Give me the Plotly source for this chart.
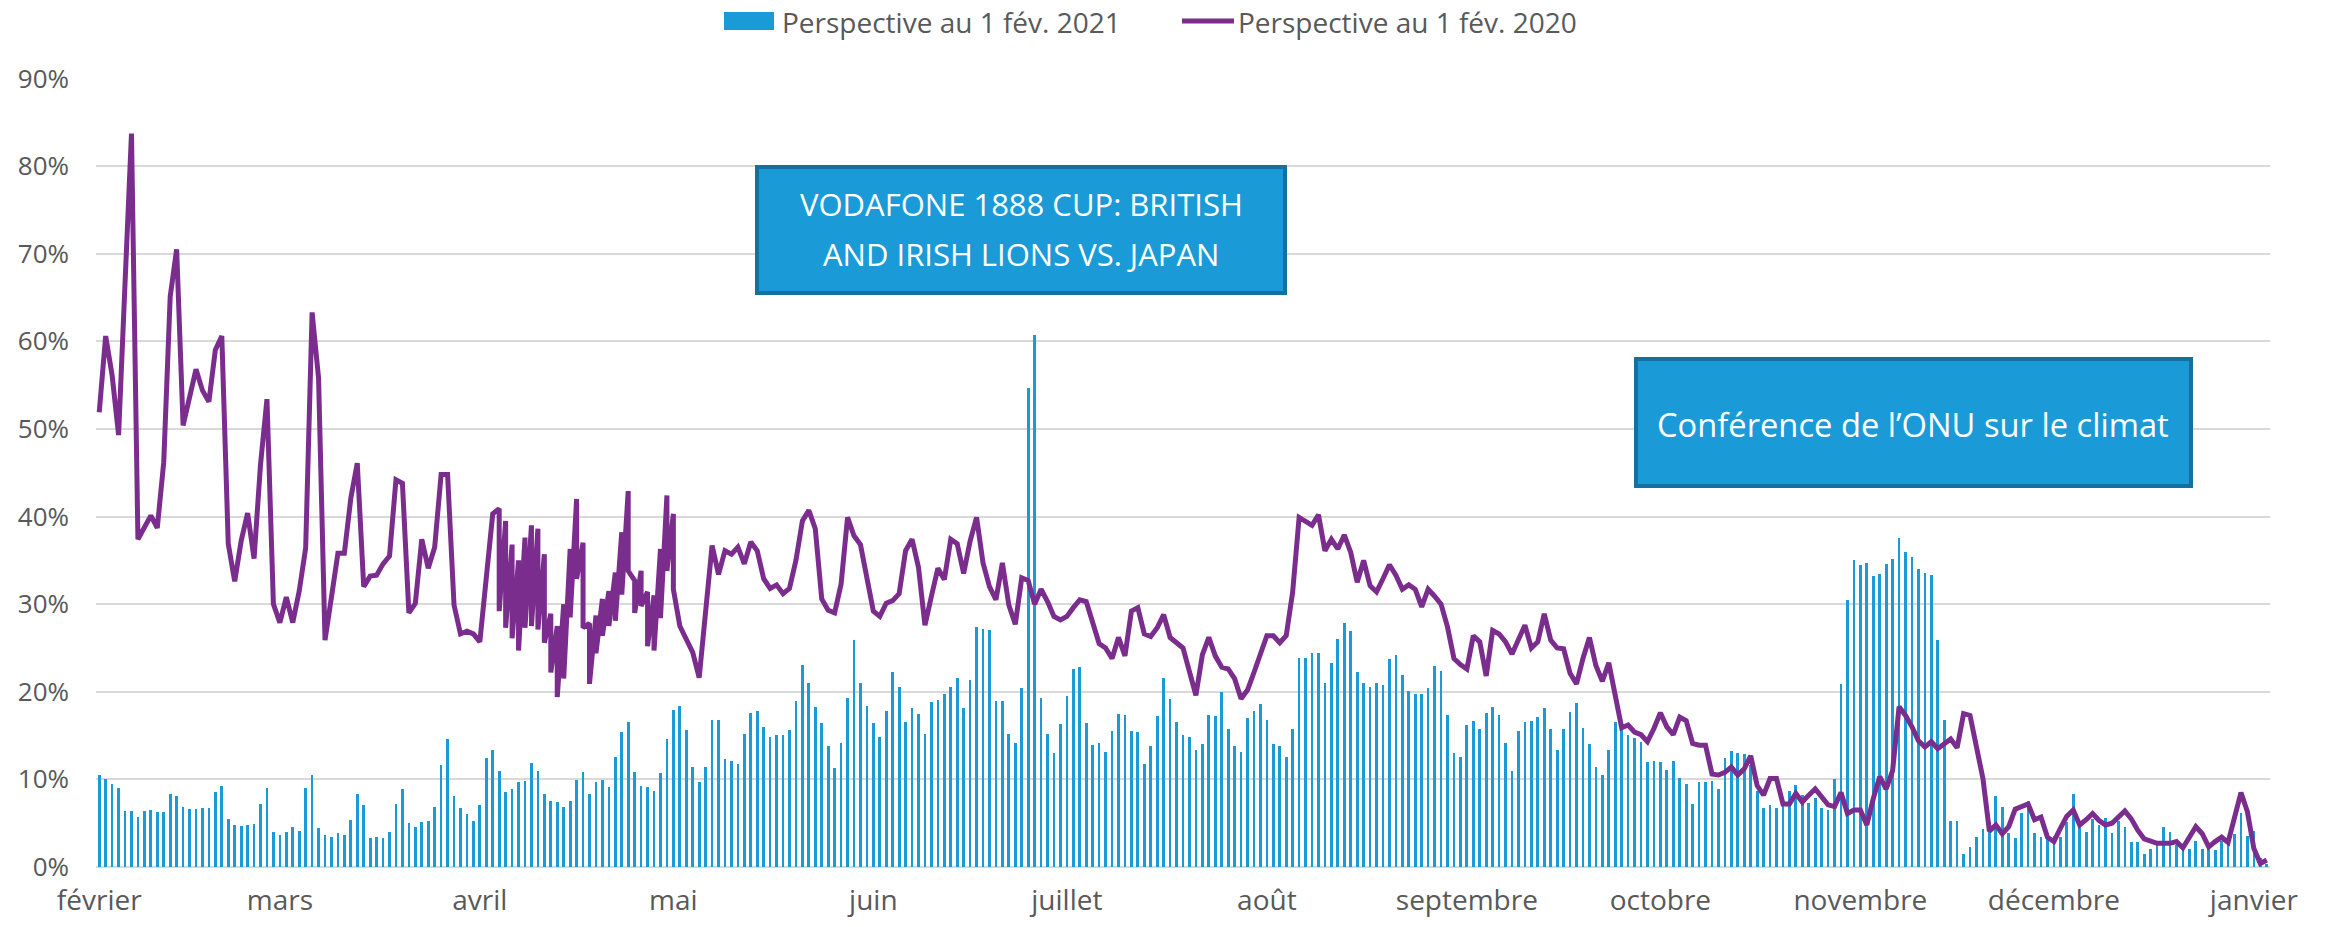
import plotly.graph_objects as go
import pandas as pd

# ---------------- data ----------------
start_date = "2021-02-01"

# Perspective au 1 fév. 2021 (daily, %)
bars_2021 = [
    10.5, 10.0, 9.5, 9.0, 6.4, 6.4, 5.7, 6.4, 6.5, 6.3, 6.3, 8.3, 8.1, 6.9, 6.6, 6.6, 6.7, 6.7, 8.6, 9.3,
    5.5, 4.8, 4.7, 4.8, 4.9, 7.2, 9.0, 4.0, 3.7, 4.0, 4.6, 4.1, 9.0,
    10.5, 4.4, 3.6, 3.4, 3.9, 3.7, 5.4, 8.3, 7.1, 3.3, 3.4, 3.3, 4.0, 7.2, 8.9, 5.0, 4.6, 5.1, 5.3, 6.8,
    11.6, 14.6, 8.1, 6.7, 6.0, 5.3, 7.1, 12.4, 13.3, 11.0, 8.6, 8.9, 9.7, 9.8,
    11.9, 11.0, 8.3, 7.5, 7.4, 6.9, 7.5, 9.9, 10.8, 8.3, 9.7, 9.9, 9.1, 12.5, 15.4, 16.5, 10.9, 9.2, 9.1,
    8.7, 10.7, 14.6, 17.9, 18.4, 15.6, 11.4, 9.7, 11.4, 16.8, 16.8, 12.3, 12.1, 11.7, 15.2,
    17.6, 17.8, 16.0, 14.8, 15.1, 15.1, 15.6, 18.9, 23.1, 21.0, 18.3, 16.4, 13.8, 11.3, 14.2, 19.3, 25.9,
    21.0, 18.4, 16.4, 14.8, 17.8, 22.2, 20.6, 16.5, 18.1, 17.5, 15.2, 18.8, 19.1, 19.8, 20.6, 21.6, 18.2, 21.4,
    27.4, 27.2, 27.0, 18.9, 18.9, 15.2, 14.1, 20.4, 54.7, 60.7, 19.3, 15.2, 13.0, 16.3, 19.5, 22.6, 22.8,
    16.4, 13.9, 14.2, 13.1, 15.5, 17.5, 17.4, 15.5, 15.4, 11.8, 13.8, 17.2, 21.6, 19.2, 16.5, 15.1, 14.8,
    13.4, 14.0, 17.3, 17.2, 20.0, 15.7, 13.8, 13.1, 17.0, 17.8, 18.6, 16.8, 14.0, 13.8, 12.5, 15.7, 23.8,
    23.9, 24.4, 24.4, 21.0, 23.3, 26.0, 27.8, 26.9, 22.2, 21.0, 20.6, 21.0, 20.8, 23.7, 24.2, 21.9, 20.1,
    19.8, 19.8, 20.4, 22.9, 22.4, 17.4, 13.0, 12.5, 16.2, 16.7, 15.8, 17.6, 18.3, 17.4, 14.1, 11.0, 15.5,
    16.5, 16.7, 17.1, 18.1, 15.8, 13.3, 15.8, 17.7, 18.7, 15.9, 14.0, 11.4, 10.5, 13.4, 16.5, 15.7, 15.1,
    14.7, 14.3, 12.0, 12.1, 12.0, 11.1, 12.1, 10.2, 9.5, 7.2, 9.7, 9.7, 9.8, 8.9, 12.4, 13.2, 13.0, 12.9,
    11.6, 8.7, 6.7, 7.1, 6.7, 7.0, 8.7, 9.4, 8.2, 7.3, 7.9, 6.7, 6.5, 10.0, 20.9, 30.5,
    35.0, 34.5, 34.7, 33.2, 33.4, 34.6, 35.2, 37.5, 36.0, 35.4, 34.0, 33.5, 33.3, 25.9, 16.8, 5.3, 5.3,
    1.5, 2.3, 3.4, 4.3, 5.1, 8.1, 6.9, 3.9, 3.3, 6.2, 7.5, 3.9, 3.4, 3.9, 3.5, 3.4, 5.1,
    8.3, 4.8, 4.0, 5.5, 4.8, 5.6, 3.9, 5.2, 4.6, 2.8, 2.9, 1.5, 2.1, 2.9, 4.6, 4.0, 2.5, 2.1, 2.1, 3.0,
    2.1, 2.1, 1.9, 3.0, 2.9, 3.8, 6.2, 3.5, 4.1, 1.0, 0.4,
]

# Perspective au 1 fév. 2020 (daily, %; some days carry two readings)
line_2020 = [
    51.9, 60.6, 56.1, 49.3, 66.6, 83.7, 37.4, 38.7, 40.1, 38.7, 46.2, 65.1, 70.5, 50.4, 53.8, 56.8, 54.4,
    53.1, 59.0, 60.6, 36.9, 32.6, 37.2, 40.4, 35.2, 45.9, 53.4, 30.0, 27.9, 30.8, 27.9, 31.5, 36.4,
    63.3, 55.8, 25.9, 30.8, 35.8, 35.8, 42.1, 46.1, 32.0, 33.2, 33.3, 34.6, 35.5, 44.2, 43.8, 29.0, 30.1,
    37.4, 34.1, 36.5, 44.8, 44.8, 29.9, 26.6, 26.9, 26.6, 25.7, 33.0, 40.3,
    (40.9, 29.2), (39.5, 27.3), (36.8, 26.1), (35.0, 24.7), (37.6, 27.3), (39.0, 27.5), (38.6, 27.1),
    (35.7, 25.6), (28.9, 22.2), (27.5, 19.4), (30.0, 21.5), (36.3, 28.5), (42.0, 32.9), (37.0, 27.3),
    (27.8, 20.9), (28.7, 24.4), (30.6, 26.4), (31.5, 27.5), (33.6, 28.1), (38.2, 31.1), (42.9, 33.8),
    (32.7, 29.0), (33.8, 29.8), (31.4, 25.2), (31.0, 24.7), (36.3, 28.4), (42.4, 33.8), (40.3, 31.7),
    27.5, 26.0, 24.5, 21.6, 29.0, 36.7, 33.4, 36.1, 35.7, 36.5, 34.6,
    37.1, 36.1, 32.9, 31.8, 32.2, 31.2, 31.8, 35.0, 39.5, 40.7, 38.6, 30.6, 29.3, 29.0, 32.3, 39.9, 37.8,
    36.8, 33.1, 29.2, 28.6, 30.1, 30.4, 31.2, 36.1, 37.4, 34.2, 27.6, 30.9, 34.1, 32.8, 37.4, 36.9, 33.5, 37.2,
    39.9, 34.7, 32.0, 30.5, 34.7, 29.9, 27.7, 33.0, 32.7, 30.0, 31.7, 30.3, 28.6, 28.2, 28.6, 29.6, 30.5,
    30.3, 27.7, 25.5, 25.0, 23.8, 26.2, 24.1, 29.2, 29.6, 26.6, 26.3, 27.3, 28.8, 26.2, 25.6, 25.0, 22.3,
    19.6, 24.2, 26.2, 24.1, 22.8, 22.6, 21.5, 19.2, 20.2, 22.2, 24.5, 26.4, 26.4, 25.6, 26.4, 31.4, 39.9,
    39.5, 39.0, 40.2, 36.1, 37.4, 36.3, 37.9, 35.9, 32.5, 35.0, 32.1, 31.4, 32.9, 34.5, 33.3, 31.7, 32.2,
    31.7, 29.7, 31.7, 30.9, 30.0, 27.4, 23.8, 23.1, 22.6, 26.4, 25.7, 21.8, 27.0, 26.6, 25.7, 24.3, 25.9,
    27.6, 25.0, 25.7, 28.9, 25.9, 25.0, 24.9, 22.1, 20.9, 23.8, 26.2, 23.0, 21.2, 23.3, 19.2, 15.9, 16.2,
    15.4, 15.1, 14.3, 15.8, 17.6, 16.0, 15.1, 17.1, 16.7, 14.1, 13.9, 13.9, 10.6, 10.5, 10.8, 11.4, 10.5,
    11.2, 12.7, 9.3, 8.2, 10.1, 10.1, 7.2, 7.2, 8.4, 7.4, 8.2, 8.9, 8.0, 7.1, 6.9, 8.5, 6.1,
    6.5, 6.5, 4.8, 7.8, 10.3, 8.9, 11.0, 18.3, 17.3, 16.0, 14.4, 13.7, 14.3, 13.5, 14.1, 14.6, 13.6,
    17.5, 17.3, 13.5, 10.1, 4.1, 4.8, 3.8, 4.6, 6.6, 6.9, 7.2, 5.4, 5.7, 3.4, 2.9, 4.4, 5.8,
    6.5, 4.8, 5.4, 6.1, 5.3, 4.8, 5.0, 5.7, 6.4, 5.5, 4.2, 3.2, 2.9, 2.7, 2.7, 2.7, 2.9, 2.2, 3.4, 4.6,
    3.8, 2.3, 2.9, 3.4, 2.8, 5.9, 8.5, 6.3, 2.1, 0.4, 0.8,
]

month_ticks = ["2021-02-01", "2021-03-01", "2021-04-01", "2021-05-01", "2021-06-01", "2021-07-01",
               "2021-08-01", "2021-09-01", "2021-10-01", "2021-11-01", "2021-12-01", "2022-01-01"]
month_labels = ["février", "mars", "avril", "mai", "juin", "juillet", "août", "septembre",
                "octobre", "novembre", "décembre", "janvier"]

series_names = ["Perspective au 1 fév. 2021", "Perspective au 1 fév. 2020"]
callout_1 = ["VODAFONE 1888 CUP: BRITISH", "AND IRISH LIONS VS. JAPAN"]
callout_2 = "Conférence de l’ONU sur le climat"

# ---------------- build ----------------
dates = pd.date_range(start_date, periods=len(bars_2021), freq="D")
line_x, line_y = [], []
for d, v in zip(dates, line_2020):
    vals = v if isinstance(v, tuple) else (v,)
    for val in vals:
        line_x.append(d)
        line_y.append(val / 100)

BLUE = "#1A9BD7"
PURPLE = "#7B2D8E"
GREY = "#595959"
BORDER = "#156F9F"
FONT = "Open Sans"

fig = go.Figure()
fig.add_trace(go.Bar(
    x=dates, y=[b / 100 for b in bars_2021], name=series_names[0], showlegend=False,
    marker=dict(color=BLUE, line=dict(width=0)), width=0.42 * 86400000,
))
fig.add_trace(go.Scatter(
    x=line_x, y=line_y, name=series_names[1], mode="lines", showlegend=False,
    line=dict(color=PURPLE, width=5),
))

W, H = 2325, 927
PAGE_OFFSET = 0                       # body margin removed by post_script below
PL, PT, PR, PB = 96, 78, 2270, 867    # plot area in screen pixels
pw, ph = PR - PL, PB - PT
L, T = PL - PAGE_OFFSET, PT - PAGE_OFFSET
R, B = W - L - pw, H - T - ph


def px(x):
    return (x - PL) / pw


def py(y):
    return (PB - y) / ph


shapes = [
    # legend keys
    dict(type="rect", xref="paper", yref="paper", x0=px(724), x1=px(774), y0=py(30), y1=py(12),
         fillcolor=BLUE, line=dict(width=0)),
    dict(type="line", xref="paper", yref="paper", x0=px(1182), x1=px(1234), y0=py(21), y1=py(21),
         line=dict(color=PURPLE, width=5)),
    # callout boxes
    dict(type="rect", xref="paper", yref="paper", x0=px(757), x1=px(1285), y0=py(293), y1=py(167),
         fillcolor=BLUE, line=dict(color=BORDER, width=4), layer="above"),
    dict(type="rect", xref="paper", yref="paper", x0=px(1636), x1=px(2191), y0=py(486), y1=py(359),
         fillcolor=BLUE, line=dict(color=BORDER, width=4), layer="above"),
]

annotations = [
    dict(xref="paper", yref="paper", x=px(780), y=py(22), text=series_names[0], showarrow=False,
         font=dict(size=28, color=GREY, family=FONT), xanchor="left", yanchor="middle"),
    dict(xref="paper", yref="paper", x=px(1236), y=py(22), text=series_names[1], showarrow=False,
         font=dict(size=28, color=GREY, family=FONT), xanchor="left", yanchor="middle"),
    dict(xref="paper", yref="paper", x=px(1021), y=py(204), text=callout_1[0], showarrow=False,
         font=dict(size=31, color="white", family=FONT), xanchor="center", yanchor="middle"),
    dict(xref="paper", yref="paper", x=px(1021), y=py(254), text=callout_1[1], showarrow=False,
         font=dict(size=31, color="white", family=FONT), xanchor="center", yanchor="middle"),
    dict(xref="paper", yref="paper", x=px(1913), y=py(424), text=callout_2, showarrow=False,
         font=dict(size=32.7, color="white", family=FONT), xanchor="center", yanchor="middle"),
]

fig.update_layout(
    width=W, height=H,
    margin=dict(l=L, r=R, t=T, b=B, autoexpand=False),
    plot_bgcolor="white", paper_bgcolor="white",
    font=dict(family=FONT, color=GREY, size=26),
    bargap=0,
    showlegend=False,
    xaxis=dict(
        type="date", range=["2021-01-31 12:00", "2022-01-03 12:00"],
        tickvals=month_ticks, ticktext=month_labels, showgrid=False, zeroline=False,
        showline=False, ticks="", tickfont=dict(size=28, color=GREY), ticklabelstandoff=14,
        automargin=False,
    ),
    yaxis=dict(
        range=[0, 0.9005], dtick=0.1, tickformat=".0%", showgrid=True, gridcolor="#D9D9D9",
        gridwidth=2, zeroline=True, zerolinecolor="#D9D9D9", zerolinewidth=2, showline=False,
        ticks="", tickfont=dict(size=26, color=GREY), ticklabelstandoff=26, automargin=False,
    ),
    shapes=shapes,
    annotations=annotations,
)

fig.write_html("out.html", config={"displayModeBar": False},
               post_script="document.body.style.margin='0';")
